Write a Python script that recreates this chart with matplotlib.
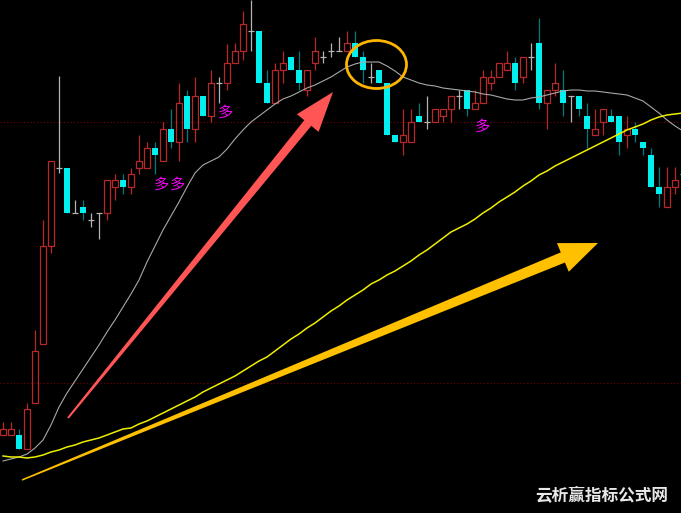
import matplotlib
matplotlib.use("Agg")
import matplotlib.pyplot as plt
from matplotlib.patches import Rectangle, Polygon, Ellipse
import numpy as np

# ---- data (price units) ----
opens = [7.8, 7.8, 7.8, 6.4, 11.0, 16.9, 26.7, 34.5, 34.5, 30.0,
         30.6, 29.3, 30.0, 30.0, 32.6, 33.3, 32.6, 34.5, 34.5, 36.5,
         35.2, 38.4, 37.1, 41.7, 38.4, 41.7, 39.7, 43.0, 43.0, 45.0,
         46.2, 48.2, 48.2, 43.0, 41.0, 44.3, 45.6, 44.3, 42.3, 45.0,
         45.6, 46.2, 46.2, 46.2, 47.0, 45.6, 43.6, 44.3, 43.0, 37.8,
         37.1, 37.1, 39.7, 39.1, 39.1, 39.7, 40.4, 41.7, 42.3, 40.4,
         41.0, 43.0, 43.6, 44.3, 45.0, 43.6, 45.6, 47.0, 41.0, 42.3,
         42.3, 41.7, 41.7, 39.7, 37.8, 39.1, 39.7, 39.7, 37.8, 38.4,
         37.1, 35.8, 32.6, 30.6, 32.6, 33.9]
highs = [9.1, 9.1, 8.4, 11.0, 18.3, 29.3, 35.2, 43.7, 34.5, 31.3,
         31.3, 30.0, 30.0, 33.3, 33.9, 33.9, 34.5, 37.8, 37.1, 37.1,
         39.1, 40.4, 43.0, 42.3, 43.6, 41.7, 44.3, 43.6, 46.9, 47.0,
         50.2, 51.3, 48.2, 44.3, 45.0, 46.2, 45.6, 46.2, 44.3, 47.6,
         46.2, 47.0, 47.6, 48.2, 48.2, 46.2, 45.0, 44.3, 43.0, 37.8,
         40.4, 40.4, 41.0, 41.7, 40.4, 40.4, 41.7, 42.3, 42.3, 42.3,
         44.3, 44.3, 45.0, 46.2, 45.6, 45.6, 47.0, 49.5, 42.3, 45.0,
         44.3, 41.7, 41.7, 41.0, 40.4, 40.4, 40.4, 39.7, 39.7, 39.1,
         37.1, 36.5, 34.6, 34.6, 34.6, 34.6]
lows = [7.8, 7.8, 6.4, 6.4, 11.0, 16.9, 26.0, 34.0, 30.0, 30.0,
        29.3, 28.6, 27.4, 29.3, 31.3, 31.9, 31.9, 33.9, 34.5, 33.9,
        35.2, 36.5, 35.2, 37.1, 37.1, 39.7, 39.1, 41.0, 42.3, 45.0,
        45.3, 46.2, 43.0, 41.0, 41.0, 43.0, 44.3, 42.3, 41.7, 44.3,
        45.0, 45.6, 46.2, 46.2, 45.6, 43.0, 43.0, 43.0, 37.8, 37.1,
        35.8, 37.1, 39.1, 38.4, 39.1, 39.1, 39.1, 40.4, 39.7, 40.4,
        41.0, 42.3, 43.6, 44.3, 42.3, 43.0, 44.3, 40.4, 38.4, 41.7,
        39.7, 39.1, 39.7, 36.5, 37.8, 37.8, 39.1, 35.8, 36.5, 37.1,
        35.8, 32.6, 30.6, 30.6, 31.9, 33.3]
closes = [8.4, 8.4, 6.4, 10.4, 16.2, 26.7, 35.2, 34.5, 30.0, 30.0,
          30.0, 29.3, 30.0, 33.3, 33.3, 32.6, 33.9, 35.2, 36.5, 35.8,
          38.4, 37.1, 41.0, 38.4, 41.7, 39.7, 43.0, 43.0, 45.0, 46.2,
          48.9, 48.2, 43.0, 41.0, 44.3, 45.0, 44.3, 43.0, 44.3, 46.2,
          45.6, 46.2, 46.2, 47.0, 45.6, 44.3, 43.6, 43.0, 37.8, 37.1,
          37.8, 39.1, 39.1, 39.1, 40.4, 40.4, 41.7, 41.7, 40.4, 41.0,
          43.6, 43.6, 45.0, 45.0, 43.0, 45.6, 45.6, 41.0, 42.3, 43.0,
          41.0, 41.7, 40.4, 38.4, 38.4, 40.4, 39.1, 37.1, 38.4, 37.8,
          36.5, 32.6, 31.9, 32.6, 33.3, 33.9]

ma_short = [5.2, 5.4, 5.6, 5.9, 6.5, 7.3, 8.8, 10.6, 12.0, 13.2,
            14.4, 15.6, 16.8, 18.1, 19.3, 20.6, 21.9, 23.3, 25.1, 26.7,
            28.3, 29.7, 31.1, 32.6, 34.0, 34.8, 35.2, 35.6, 36.4, 37.4,
            38.3, 39.1, 39.7, 40.3, 40.9, 41.4, 41.7, 42.1, 42.5, 42.8,
            43.2, 43.6, 44.1, 44.6, 44.9, 45.1, 45.1, 45.1, 44.7, 44.2,
            43.6, 43.3, 43.0, 42.8, 42.7, 42.5, 42.4, 42.3, 42.2, 42.1,
            41.9, 41.8, 41.6, 41.4, 41.3, 41.3, 41.5, 41.6, 41.8, 42.0,
            42.2, 42.3, 42.3, 42.2, 42.2, 42.1, 42.0, 41.9, 41.8, 41.5,
            41.2, 40.6, 40.0, 39.3, 38.7, 38.2]
ma_long = [5.7, 5.6, 5.6, 5.5, 5.6, 5.8, 6.1, 6.3, 6.6, 6.8,
           7.1, 7.3, 7.5, 7.8, 8.1, 8.4, 8.5, 8.9, 9.2, 9.6,
           10.0, 10.4, 10.8, 11.2, 11.6, 12.1, 12.5, 12.9, 13.3, 13.7,
           14.2, 14.7, 15.2, 15.6, 16.2, 16.8, 17.4, 17.9, 18.5, 19.0,
           19.6, 20.2, 20.7, 21.3, 21.8, 22.3, 22.9, 23.3, 23.8, 24.2,
           24.7, 25.2, 25.8, 26.3, 26.9, 27.5, 28.1, 28.5, 28.9, 29.4,
           30.0, 30.5, 31.1, 31.6, 32.1, 32.7, 33.2, 33.8, 34.2, 34.7,
           35.1, 35.5, 35.9, 36.3, 36.7, 37.1, 37.5, 37.9, 38.3, 38.6,
           38.9, 39.3, 39.6, 39.8, 39.9, 40.0]
ref_levels = [39.1, 13.0]

# ---- styles ----
UP = "#b82828"
DOWN = "#00f0f0"
DOWN_WICK = "#007a7a"
DOJI = "#b4b4b4"
W = 0.85

plt.rcParams['font.family'] = ['Noto Sans CJK SC', 'DejaVu Sans']
fig = plt.figure(figsize=(6.81, 5.13), dpi=100, facecolor="black")
ax = fig.add_axes([0, 0, 1, 1])
ax.set_facecolor("black")
ax.set_xlim(-0.375, 84.75)
ax.set_ylim(0, 51.3)
ax.axis("off")

for lv in ref_levels:
    ax.axhline(lv, color="#7a0000", lw=0.8, ls=(0, (1, 2)), zorder=1)

x = np.arange(len(opens))
for i in x:
    o, h, l, c = opens[i], highs[i], lows[i], closes[i]
    if c > o:
        ax.vlines(i, c, h, color=UP, lw=0.9, zorder=3)
        ax.vlines(i, l, o, color=UP, lw=0.9, zorder=3)
        ax.add_patch(Rectangle((i - W / 2, o), W, c - o, fill=False,
                               edgecolor=UP, lw=0.9, zorder=3))
    elif c < o:
        ax.vlines(i, l, h, color=DOWN_WICK, lw=0.9, zorder=2)
        ax.add_patch(Rectangle((i - W / 2, c), W, o - c, facecolor=DOWN,
                               edgecolor="none", zorder=3))
    else:
        ax.vlines(i, l, h, color=DOJI, lw=0.9, zorder=3)
        ax.hlines(o, i - W / 2, i + W / 2, color=DOJI, lw=0.9, zorder=3)

ax.plot(x, ma_short, color="#a8a8a8", lw=0.8, zorder=4)
ax.plot(x, ma_long, color="#eeee00", lw=1.1, zorder=4)

# ---- annotation overlay (pixel space) ----
ov = fig.add_axes([0, 0, 1, 1])
ov.set_xlim(0, 681)
ov.set_ylim(513, 0)
ov.axis("off")
ov.patch.set_alpha(0)


def tapered_arrow(start, tip, w0, w1, head_len, head_half, color):
    s = np.array(start, float)
    t = np.array(tip, float)
    d = t - s
    u = d / np.linalg.norm(d)
    n = np.array([-u[1], u[0]])
    b = t - u * head_len
    pts = [s + n * w0 / 2, b + n * w1 / 2, b + n * head_half, t,
           b - n * head_half, b - n * w1 / 2, s - n * w0 / 2]
    ov.add_patch(Polygon(pts, closed=True, facecolor=color,
                         edgecolor="none", zorder=6))


tapered_arrow((68, 418), (333, 92), 2.0, 9.0, 40, 14, "#ff5555")
tapered_arrow((22, 480), (598, 243), 1.5, 11.0, 38, 15.5, "#ffc000")

ov.add_patch(Ellipse((376.5, 64.5), 60, 48, fill=False,
                     edgecolor="#ffb400", lw=2.0, zorder=6))

for (tx, ty) in [(161, 184), (177, 184), (225, 112), (482, 126)]:
    ov.text(tx, ty, "多", color="#f000f0", fontsize=11, ha="center",
            va="center", style="italic", zorder=7)

ov.text(602, 495, "云析赢指标公式网", color="#e8e8e8", fontsize=12,
        fontweight="bold", ha="center", va="center", zorder=7)

fig.savefig("out.png", dpi=100, facecolor="black")
